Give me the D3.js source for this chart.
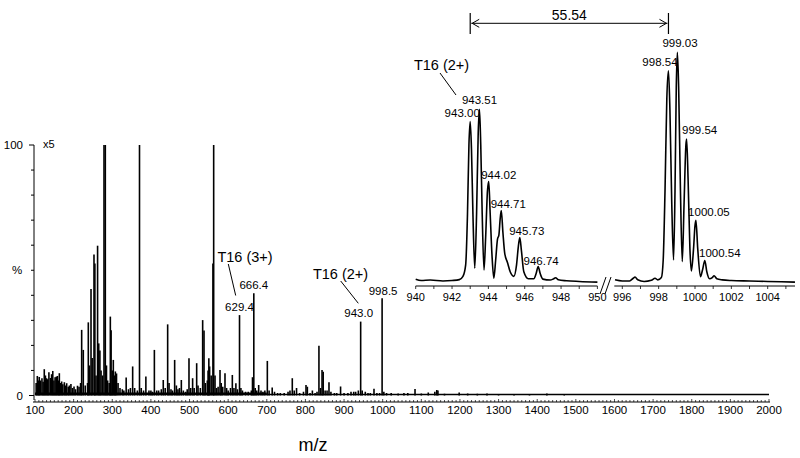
<!DOCTYPE html>
<html>
<head>
<meta charset="utf-8">
<script src="https://cdn.jsdelivr.net/npm/d3@7"></script>
<style>
  html, body { margin: 0; padding: 0; background: #fff; }
  svg { display: block; font-family: "Liberation Sans", Arial, sans-serif; }
</style>
</head>
<body>
<svg id="chart" width="800" height="458"></svg>
<script>
// ---------------- DATA ----------------
// Main spectrum (m/z, relative intensity %, x5 scaled and clipped at 100)
const mainMz = [
  103,106,109,111,114,118,121,124,127,130,133,136,140,143,146,149,152,155,158,161,163,166,169,172,176,179,182,186,189,193,197,201,205,210,214,218,
  220.8,225,230,236,238,241,245,248,252.7,255,258,262,265,268,271,275,278.6,282,285,288,292,295,297,300,302.7,306,308,311,315,320,326,330,336,342,347,352.8,358,365,
  370.5,375,381,387,395,400,404,409,415,420,427,432,437,443.4,447,452,456,461.5,466,470,474,478.8,484,490,494,498.6,503,508,512,518.5,522,528,534,537.5,541,546,548,550,552,556,560.6,562.5,566,570,574,578.9,582,586,591.8,596,600,606,610.8,615,620,624,629.4,633,637,645,652,660,663,666.4,670,674,679,685,690,695,701.4,706,714,720,728,735,745,755,760,766,771,777,785,795,801.5,805,812,818,825,830,835,839,843,846,851,856,861,866,875,881,891,900,910,918,925,930,937,943,947,955,962,968,977.5,985,992,998.5,1003,1010,1022,1040,1055,1065,1083.7,1100,1118,1135,1140,1143,1160,1198,1220,1245,1270,1300,1340,1380,1425,1470
];
const mainInt = [
  5,7.8,6,7.4,6,6.9,5.5,10.5,8,6.9,6.5,9.3,7,8.5,9.8,6,7.3,7.5,7.8,6,8.9,5,5.6,4.5,5.3,4,4.9,3.5,4,4.6,3,3.6,2.5,3.9,3.5,5,
  26.2,18.2,4,5,29.2,12,42.5,15,56.3,52.7,8,59.8,20.8,18,10,8,100,100,12,6,5,31.5,26,10,14.2,8,9.6,8.8,5,3,2.5,2,7.2,2.5,3,11.6,3,2,
  100,3,2,7.6,2,2,1.5,18.2,2,2,2.5,6.2,3,28.4,5,2.5,2,14.2,4,2.5,3,6.2,2,1.5,2.5,14.9,3,6.9,3,12.9,4,3,30.1,25.9,5,6,10,14.9,11.6,8,52.7,100,8,3,3.5,10.2,5,3.5,8.9,3,2,3,8.2,3,4.9,2.5,32.1,3,2,1.5,1.5,2,7.3,40.8,3,2,4.2,2,1.5,2,13.8,2,3.2,1.5,1,1,1,1.5,2,6.9,2,3,1,1.5,4.2,3.5,1,2,1,1.5,19.9,3,10.2,9.5,2,2,5.3,1.5,1,1,3.6,1,1,1.5,1.5,1.5,2,29.5,2,1.5,1,1,2.7,1,1,38.8,1.5,1,1,0.8,1,1,2.6,0.8,1.2,1.5,2.2,2,0.7,1.2,0.8,0.7,0.8,0.6,0.5,0.5,0.8,0.4
];
const mainXTicks = [100,200,300,400,500,600,700,800,900,1000,1100,1200,1300,1400,1500,1600,1700,1800,1900,2000];
const mainYTicks = [0,10,20,30,40,50,60,70,80,90,100];

// Inset profile: T16 (2+) region and its shifted partner
const insetLeftMz = [940.0,940.3,940.8,941.5,942.0,942.4,942.6,942.75,942.85,942.93,943.0,943.07,943.15,943.25,943.35,943.44,943.51,943.58,943.66,943.76,943.85,943.95,944.02,944.1,944.2,944.3,944.4,944.5,944.58,944.65,944.71,944.8,944.9,945.05,945.2,945.4,945.55,945.65,945.73,945.82,945.95,946.2,946.5,946.62,946.74,946.86,947.0,947.4,947.6,947.7,947.85,948.3,949.0,950.0];
const insetLeftInt = [1.8,1.2,1.4,1.0,1.2,1.6,3.0,8,30,60,70,58,30,6.5,30,65,75.3,60,30,5.8,20,40,44,30,12,2.2,10,19,21,28,31.5,22,13,9,5,3,8,16,19.8,14,5,2,2,4,7.2,4,1.8,1.4,2,2.4,1.5,1.1,0.8,0.5];
const insetRightMz = [995.6,996.0,996.4,996.6,996.7,996.85,997.2,997.6,997.8,997.95,998.15,998.25,998.35,998.45,998.54,998.62,998.72,998.82,998.9,998.97,999.03,999.1,999.2,999.3,999.4,999.5,999.54,999.62,999.72,999.8,999.92,1000.0,1000.05,1000.15,1000.3,1000.42,1000.54,1000.65,1000.8,1000.95,1001.05,1001.2,1001.5,1002.0,1003.0,1004.0,1005.5];
const insetRightInt = [1.5,1.0,1.0,2.2,2.7,1.5,0.8,1.3,2.2,1.5,2.5,10,40,80,92,75,35,10.1,40,85,100,85,40,9.4,35,60,62.5,45,15,5.3,15,25,27.3,15,2.9,6,9.9,5,2,2.5,3.3,2,1.5,1.2,1.0,0.8,0.5];
const insetLeftTicks = [940,942,944,946,948,950];
const insetRightTicks = [996,998,1000,1002,1004];

// Labelled peaks
const mainLabelMz = [629.4, 666.4, 943.0, 998.5];
const mainLabelInt = [32.1, 40.8, 29.5, 38.8];
const insetLabelMz = [943.00, 943.51, 944.02, 944.71, 945.73, 946.74, 998.54, 999.03, 999.54, 1000.05, 1000.54];
const insetLabelInt = [70, 75.3, 44, 31.5, 19.8, 7.2, 92, 100, 62.5, 27.3, 9.9];
const massShift = "55.54";

// ---------------- LAYOUT ----------------
const svg = d3.select("#chart");

const x = d3.scaleLinear().domain([100, 2000]).range([35, 769]);
const y = d3.scaleLinear().domain([0, 100]).range([395.5, 145]);
const xl = d3.scaleLinear().domain([940, 950]).range([415.7, 597.4]);
const xr = d3.scaleLinear().domain([996, 1004]).range([622.3, 767.7]);
const yi = d3.scaleLinear().domain([0, 100]).range([283.3, 52.3]);

// ---- Main y axis ----
svg.append("line").attr("x1", 34).attr("x2", 34).attr("y1", y(100)).attr("y2", 400)
  .attr("stroke", "#000").attr("stroke-width", 1);
svg.selectAll(".ytick").data(mainYTicks).enter().append("line")
  .attr("x1", d => (d === 100 || d === 0) ? 29 : 31).attr("x2", 34)
  .attr("y1", d => y(d)).attr("y2", d => y(d))
  .attr("stroke", "#000").attr("stroke-width", 1);
svg.append("text").attr("x", 23).attr("y", y(100) + 4).attr("text-anchor", "end")
  .attr("font-size", 11.5).text("100");
svg.append("text").attr("x", 23).attr("y", y(0) + 4).attr("text-anchor", "end")
  .attr("font-size", 11.5).text("0");
svg.append("text").attr("x", 17).attr("y", y(50) + 4).attr("text-anchor", "middle")
  .attr("font-size", 11.5).text("%");
svg.append("text").attr("x", 43).attr("y", y(100) + 3).attr("font-size", 11).text("x5");

// ---- Main x axis ----
const axisY = 402;
svg.append("line").attr("x1", 33).attr("x2", 770).attr("y1", axisY).attr("y2", axisY)
  .attr("stroke", "#000").attr("stroke-width", 1);
const minorTicks = d3.range(100, 2001, 10);
svg.selectAll(".xminor").data(minorTicks).enter().append("line")
  .attr("x1", d => x(d)).attr("x2", d => x(d))
  .attr("y1", axisY).attr("y2", d => d % 100 === 0 ? axisY - 3 : axisY - 2)
  .attr("stroke", "#000").attr("stroke-width", 0.7);
svg.selectAll(".xlab").data(mainXTicks).enter().append("text")
  .attr("x", d => x(d)).attr("y", 414).attr("text-anchor", "middle")
  .attr("font-size", 11.5).text(d => d);
svg.append("text").attr("x", 313).attr("y", 451).attr("text-anchor", "middle")
  .attr("font-size", 18).text("m/z");

// ---- Main spectrum ----
svg.append("line").attr("x1", x(100)).attr("x2", x(2000)).attr("y1", y(0.4)).attr("y2", y(0.4))
  .attr("stroke", "#000").attr("stroke-width", 1.4);
svg.append("line").attr("x1", x(100)).attr("x2", x(700)).attr("y1", y(0.8)).attr("y2", y(0.8))
  .attr("stroke", "#000").attr("stroke-width", 2.2);
svg.selectAll(".peak").data(mainMz.map((m, i) => [m, mainInt[i]])).enter().append("line")
  .attr("x1", d => x(d[0])).attr("x2", d => x(d[0]))
  .attr("y1", y(0)).attr("y2", d => y(d[1]))
  .attr("stroke", "#000").attr("stroke-width", 1.6);

// main labels
const mainLabelOffsets = [[0, -4.5], [0, -4.5], [-2, -4.5], [1, -3]];
mainLabelMz.forEach((m, i) => {
  svg.append("text").attr("x", x(m) + mainLabelOffsets[i][0]).attr("y", y(mainLabelInt[i]) + mainLabelOffsets[i][1])
    .attr("text-anchor", "middle").attr("font-size", 11.5).text(m.toFixed(1));
});
svg.append("text").attr("x", 245).attr("y", 262).attr("text-anchor", "middle")
  .attr("font-size", 14.5).text("T16 (3+)");
svg.append("line").attr("x1", 228.3).attr("y1", 264).attr("x2", 235.7).attr("y2", 295.5)
  .attr("stroke", "#000").attr("stroke-width", 1);
svg.append("text").attr("x", 340.5).attr("y", 279).attr("text-anchor", "middle")
  .attr("font-size", 14.5).text("T16 (2+)");
svg.append("line").attr("x1", 340.7).attr("y1", 281).attr("x2", 358.3).attr("y2", 303.3)
  .attr("stroke", "#000").attr("stroke-width", 1);

// ---- Inset axes ----
const iAxisY = 286;
svg.append("line").attr("x1", xl(940)).attr("x2", xl(950)).attr("y1", iAxisY).attr("y2", iAxisY)
  .attr("stroke", "#000").attr("stroke-width", 1);
svg.append("line").attr("x1", 614.3).attr("x2", 795).attr("y1", iAxisY).attr("y2", iAxisY)
  .attr("stroke", "#000").attr("stroke-width", 1);
svg.selectAll(".ilt").data(d3.range(940, 951, 1)).enter().append("line")
  .attr("x1", d => xl(d)).attr("x2", d => xl(d)).attr("y1", iAxisY).attr("y2", iAxisY + 3)
  .attr("stroke", "#000").attr("stroke-width", 0.8);
svg.selectAll(".irt").data(d3.range(996, 1006, 1)).enter().append("line")
  .attr("x1", d => xr(d)).attr("x2", d => xr(d)).attr("y1", iAxisY).attr("y2", iAxisY + 3)
  .attr("stroke", "#000").attr("stroke-width", 0.8);
svg.selectAll(".ill").data(insetLeftTicks).enter().append("text")
  .attr("x", d => xl(d)).attr("y", 300.5).attr("text-anchor", "middle")
  .attr("font-size", 11).text(d => d);
svg.selectAll(".irl").data(insetRightTicks).enter().append("text")
  .attr("x", d => xr(d)).attr("y", 300.5).attr("text-anchor", "middle")
  .attr("font-size", 11).text(d => d);
// axis break marks
[0, 5].forEach(o => {
  svg.append("line").attr("x1", 600 + o).attr("y1", 294).attr("x2", 606 + o).attr("y2", 277)
    .attr("stroke", "#000").attr("stroke-width", 1);
});

// ---- Inset profiles ----
const lineL = d3.line().x(d => xl(d[0])).y(d => yi(d[1])).curve(d3.curveMonotoneX);
const lineR = d3.line().x(d => xr(d[0])).y(d => yi(d[1])).curve(d3.curveMonotoneX);
svg.append("path").datum(insetLeftMz.map((m, i) => [m, insetLeftInt[i]]))
  .attr("d", lineL).attr("fill", "none").attr("stroke", "#000").attr("stroke-width", 1.6);
svg.append("path").datum(insetRightMz.map((m, i) => [m, insetRightInt[i]]))
  .attr("d", lineR).attr("fill", "none").attr("stroke", "#000").attr("stroke-width", 1.6);

// inset labels
const insetLabelOffsets = [[-8, -4.4], [0, -5.3], [10, -2.7], [7, -2.7], [7, -3], [3, -2],
                           [-8.5, -5], [2.6, -5], [13, -5], [13, -4.4], [15, -3.4]];
insetLabelMz.forEach((m, i) => {
  const sx = m < 990 ? xl(m) : xr(m);
  svg.append("text").attr("x", sx + insetLabelOffsets[i][0]).attr("y", yi(insetLabelInt[i]) + insetLabelOffsets[i][1])
    .attr("text-anchor", "middle").attr("font-size", 11.5).text(m.toFixed(2));
});
svg.append("text").attr("x", 441.5).attr("y", 70).attr("text-anchor", "middle")
  .attr("font-size", 14.5).text("T16 (2+)");
svg.append("line").attr("x1", 440).attr("y1", 73).attr("x2", 456).attr("y2", 95)
  .attr("stroke", "#000").attr("stroke-width", 1);

// mass-shift arrow
const ax1 = xl(943.0), ax2 = xr(998.54), ay = 23.3;
svg.append("line").attr("x1", ax1).attr("x2", ax1).attr("y1", 13).attr("y2", 34).attr("stroke", "#000").attr("stroke-width", 1.2);
svg.append("line").attr("x1", ax2).attr("x2", ax2).attr("y1", 13).attr("y2", 34).attr("stroke", "#000").attr("stroke-width", 1.2);
svg.append("line").attr("x1", ax1 + 1).attr("x2", ax2 - 1).attr("y1", ay).attr("y2", ay).attr("stroke", "#000").attr("stroke-width", 1);
svg.append("path").attr("d", `M${ax1 + 9},${ay - 4}L${ax1 + 2},${ay}L${ax1 + 9},${ay + 4}`)
  .attr("fill", "none").attr("stroke", "#000").attr("stroke-width", 1);
svg.append("path").attr("d", `M${ax2 - 9},${ay - 4}L${ax2 - 2},${ay}L${ax2 - 9},${ay + 4}`)
  .attr("fill", "none").attr("stroke", "#000").attr("stroke-width", 1);
svg.append("text").attr("x", (ax1 + ax2) / 2).attr("y", 20).attr("text-anchor", "middle")
  .attr("font-size", 14).text(massShift);
</script>
</body>
</html>
